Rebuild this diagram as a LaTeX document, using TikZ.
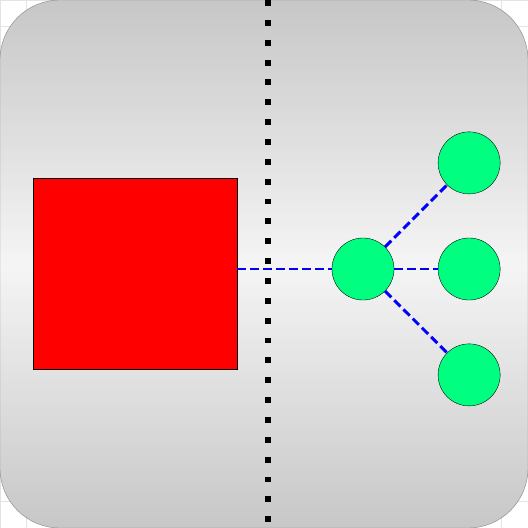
\documentclass[tikz,border=0pt]{standalone}
\usetikzlibrary{positioning}
\tikzset{
  leaf/.style={circle,draw=black,fill={rgb,255:red,0;green,255;blue,128},minimum size=2.35cm,inner sep=0pt},
  link/.style={draw={rgb,255:red,0;green,0;blue,255},line width=3.2pt,dash pattern=on 9.5pt off 4.5pt},
}
\begin{document}
\begin{tikzpicture}
\useasboundingbox (0,0) rectangle (20,20);
\draw[gray!22,step=1] (0,0) grid (20,20);
\shade[draw=gray,top color=gray!44,bottom color=gray!44,middle color=gray!8,rounded corners=2.27cm] (0,0) rectangle (20,20);
\draw[line width=6.4pt,dash pattern=on 6.4pt off 15pt] (10.15,20)--(10.15,0);
\node[draw=black,fill=red,minimum width=7.73cm,minimum height=7.23cm,inner sep=0pt] (box) at (5.11,9.64){};
\node[leaf] (hub) at (13.75,9.81){};
\node[leaf] (top) at (17.77,13.83){};
\node[leaf] (mid) at (17.77,9.81){};
\node[leaf] (low) at (17.77,5.80){};
\draw[link] (box.east |- hub)--(hub);
\draw[link] (hub)--(top);
\draw[link] (hub)--(mid);
\draw[link] (hub)--(low);
\end{tikzpicture}
\end{document}
